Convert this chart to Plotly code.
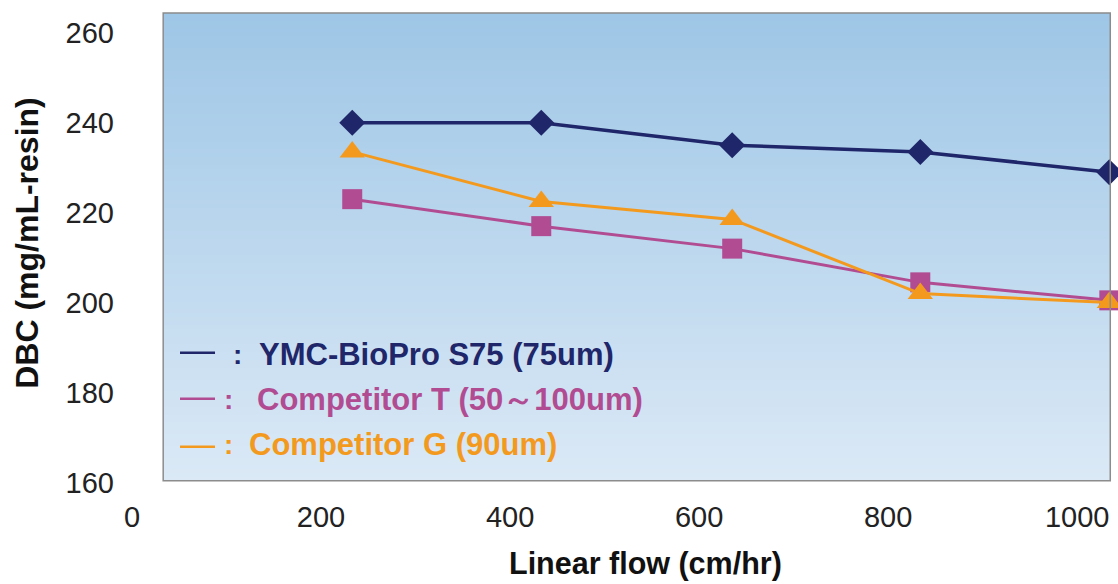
import numpy as np
import plotly.graph_objects as go

# ---------------- data ----------------
flow = [233, 433, 635, 834, 1034]          # Linear flow (cm/hr)
ymc_s75 = [240, 240, 235, 233.5, 229]      # YMC-BioPro S75 (75um)
comp_t = [223, 217, 212, 204.5, 200.5]     # Competitor T (50~100um)
comp_g = [233.5, 222.5, 218.5, 202, 200]   # Competitor G (90um)

x_ticks = [0, 200, 400, 600, 800, 1000]
y_ticks = [160, 180, 200, 220, 240, 260]

legend_labels = ["YMC-BioPro S75 (75um)", "Competitor T (50～100um)", "Competitor G (90um)"]
colors = ["#1f2669", "#b24c92", "#f39a1e"]

# ---------------- layout geometry ----------------
W, H = 1118, 584
X0_PX, PX_PER_X = 132.0, 0.945
Y200_PX, PX_PER_Y = 302.8, 4.5
xr = [0, 1040]
yr = [159, 265.5]
frame_x = [33, 1035]
frame_y = [160.4, 264.4]

ml = X0_PX
mr = W - (X0_PX + (xr[1] - xr[0]) * PX_PER_X)
mt = Y200_PX - (yr[1] - 200) * PX_PER_Y
mb = H - (Y200_PX + (200 - yr[0]) * PX_PER_Y)
plot_w = W - ml - mr
plot_h = H - mt - mb

def px2paper_x(px):
    return (px - ml) / plot_w

def px2paper_y(py):
    return (H - mb - py) / plot_h

FONT = "Arial, Liberation Sans, sans-serif"

fig = go.Figure()

# gradient background of the plotting frame
ny = 120
y_edges = np.linspace(frame_y[0], frame_y[1], ny + 1)
y_mid = (y_edges[:-1] + y_edges[1:]) / 2
z = y_mid.reshape(-1, 1)
fig.add_trace(go.Heatmap(
    x=frame_x, y=y_edges, z=z,
    colorscale=[[0, "#dbe9f6"], [1, "#9ec6e6"]],
    showscale=False, hoverinfo="skip", zsmooth=False,
))

series = [
    ("Competitor T", comp_t, colors[1], "square", 20, 3),
    ("Competitor G", comp_g, colors[2], "triangle-up", 22, 3),
    ("YMC-BioPro S75", ymc_s75, colors[0], "diamond", 20, 3.5),
]
for name, ys, col, sym, msize, lw in series:
    fig.add_trace(go.Scatter(
        x=flow, y=ys, mode="lines+markers", name=name,
        line=dict(color=col, width=lw),
        marker=dict(symbol=sym, size=msize, color=col, line=dict(width=0)),
        cliponaxis=False, showlegend=False,
    ))

shapes = [dict(type="rect", xref="x", yref="y",
               x0=frame_x[0], x1=frame_x[1], y0=frame_y[0], y1=frame_y[1],
               line=dict(color="#8c8c8c", width=1.5), fillcolor="rgba(0,0,0,0)",
               layer="above")]

annotations = []
# custom legend inside plot area
leg_rows = [
    (353, 355, 237, 257),
    (399, 400, 228, 255),
    (447, 445, 228, 247),
]
for (ly, ty, cx, tx), lab, col in zip(leg_rows, legend_labels, colors):
    shapes.append(dict(type="line", xref="paper", yref="paper",
                       x0=px2paper_x(180), x1=px2paper_x(215),
                       y0=px2paper_y(ly), y1=px2paper_y(ly),
                       line=dict(color=col, width=2.5)))
    annotations.append(dict(xref="paper", yref="paper", x=px2paper_x(cx), y=px2paper_y(ty),
                            text="<b>:</b>", showarrow=False, xanchor="center", yanchor="middle",
                            font=dict(family=FONT, size=28, color=col)))
    annotations.append(dict(xref="paper", yref="paper", x=px2paper_x(tx), y=px2paper_y(ty),
                            text="<b>" + lab + "</b>", showarrow=False, xanchor="left", yanchor="middle",
                            font=dict(family=FONT, size=31, color=col)))

# axis titles
annotations.append(dict(xref="paper", yref="paper", x=px2paper_x(645), y=px2paper_y(564),
                        text="<b>Linear flow (cm/hr)</b>", showarrow=False,
                        xanchor="center", yanchor="middle",
                        font=dict(family=FONT, size=30.5, color="#111111")))
annotations.append(dict(xref="paper", yref="paper", x=px2paper_x(27), y=px2paper_y(243),
                        text="<b>DBC (mg/mL-resin)</b>", showarrow=False, textangle=-90,
                        xanchor="center", yanchor="middle",
                        font=dict(family=FONT, size=32, color="#111111")))

fig.update_layout(
    width=W, height=H,
    margin=dict(l=ml, r=mr, t=mt, b=mb, pad=0),
    paper_bgcolor="white", plot_bgcolor="white",
    shapes=shapes, annotations=annotations,
    showlegend=False,
)
fig.update_xaxes(range=xr, tickvals=x_ticks, ticktext=[str(v) for v in x_ticks],
                 showgrid=False, zeroline=False, showline=False, ticks="",
                 ticklabelstandoff=10,
                 tickfont=dict(family=FONT, size=29, color="#222222"))
fig.update_yaxes(range=yr, tickvals=y_ticks, ticktext=[str(v) for v in y_ticks],
                 showgrid=False, zeroline=False, showline=False, ticks="",
                 ticklabelstandoff=17,
                 tickfont=dict(family=FONT, size=29, color="#222222"))

fig.write_html("out.html")
